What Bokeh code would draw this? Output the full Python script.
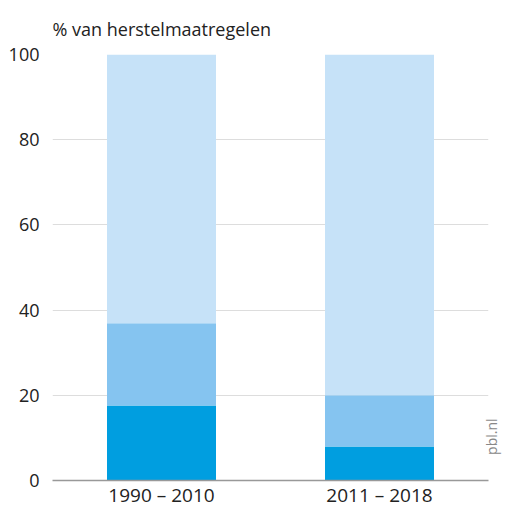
import math
from bokeh.plotting import figure
from bokeh.models import FixedTicker, LinearAxis
from bokeh.embed import file_html
from bokeh.resources import INLINE

periods = ["1990 – 2010", "2011 – 2018"]
series_names = ["s1", "s2", "s3"]
s1 = [17.6, 8.0]
s2 = [19.3, 12.0]
s3 = [63.1, 80.0]
colors = ["#009ee0", "#85c4f0", "#c6e2f8"]
y_ticks = [0, 20, 40, 60, 80, 100]
source_text = "pbl.nl"

data = {"period": periods, "s1": s1, "s2": s2, "s3": s3}

FONT = "Open Sans"

p = figure(x_range=periods, y_range=(0, 100), width=513, height=510,
           output_backend="svg", toolbar_location=None,
           min_border_left=52, min_border_top=54, min_border_right=23, min_border_bottom=30)

p.vbar_stack(series_names, x="period", width=0.5, color=colors, source=data, line_width=0)

p.title.text = "% van herstelmaatregelen"
p.title.text_font = FONT
p.title.text_font_size = "18px"
p.title.text_font_style = "normal"
p.title.text_color = "#222222"
p.title.align = "left"
p.title.offset = 0
p.title.standoff = 28

p.outline_line_color = None
p.background_fill_color = "white"
p.border_fill_color = "white"

p.x_range.range_padding = 0
p.xgrid.grid_line_color = None
p.ygrid.grid_line_color = "#dddddd"
p.ygrid.grid_line_width = 1
p.ygrid.level = "underlay"

yax = p.yaxis[0]
yax.ticker = FixedTicker(ticks=y_ticks)
yax.axis_line_color = None
yax.major_tick_line_color = None
yax.minor_tick_line_color = None
yax.major_label_standoff = 7
yax.major_label_text_font = FONT
yax.major_label_text_font_size = "18px"
yax.major_label_text_color = "#222222"

xax = p.xaxis[0]
xax.axis_line_color = "#999999"
xax.axis_line_width = 1.5
xax.major_tick_line_color = None
xax.minor_tick_line_color = None
xax.major_tick_out = 0
xax.major_tick_in = 0
xax.major_label_standoff = 1
xax.major_label_text_font = FONT
xax.major_label_text_font_size = "19px"
xax.major_label_text_color = "#222222"

rax = LinearAxis(ticker=FixedTicker(ticks=[6]), major_label_overrides={6: source_text})
rax.axis_line_color = None
rax.major_tick_line_color = None
rax.minor_tick_line_color = None
rax.major_tick_out = 0
rax.major_tick_in = 0
rax.major_label_standoff = 3
rax.major_label_orientation = math.pi / 2
rax.major_label_text_font = FONT
rax.major_label_text_font_size = "14px"
rax.major_label_text_color = "#888888"
p.add_layout(rax, "right")

open("out.html", "w").write(file_html(p, INLINE))
